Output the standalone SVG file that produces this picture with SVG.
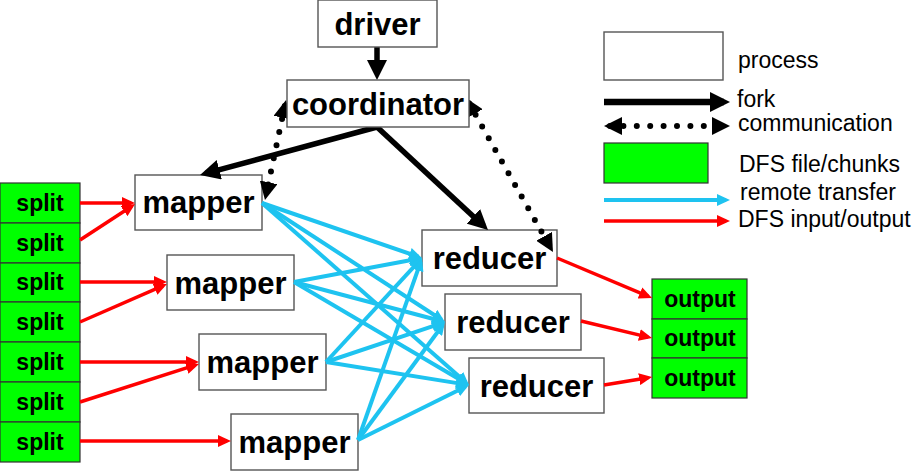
<svg xmlns="http://www.w3.org/2000/svg" width="917" height="471" viewBox="0 0 917 471">
<defs>
<style>
.proc{fill:#fff;stroke:#555;stroke-width:1.4}
.dfs{fill:#00ff00;stroke:#333;stroke-width:1.2}
.lbl{font-family:"Liberation Sans",Arial,sans-serif;font-weight:bold;font-size:31px;fill:#000;text-anchor:middle}
.sm{font-family:"Liberation Sans",Arial,sans-serif;font-weight:bold;font-size:23px;fill:#000;text-anchor:middle}
.leg{font-family:"Liberation Sans",Arial,sans-serif;font-size:23px;fill:#000}
.fork{stroke:#000;stroke-width:5.5;fill:none;marker-end:url(#mFork)}
.comm{stroke:#000;stroke-width:6;fill:none;stroke-linecap:round;stroke-dasharray:0 13.4;marker-start:url(#mComm);marker-end:url(#mComm)}
.blue{stroke:#1ec3f0;stroke-width:4;fill:none;marker-end:url(#mBlue)}
.red{stroke:#ff0000;stroke-width:3.5;fill:none;marker-end:url(#mRed)}
</style>
<marker id="mFork" markerUnits="userSpaceOnUse" viewBox="0 0 20 20" markerWidth="20" markerHeight="20" refX="14" refY="10" orient="auto"><path d="M0,0 L20,10 L0,20 z" fill="#000"/></marker>
<marker id="mComm" markerUnits="userSpaceOnUse" viewBox="0 0 18 18" markerWidth="18" markerHeight="18" refX="12" refY="9" orient="auto-start-reverse"><path d="M0,0 L18,9 L0,18 z" fill="#000"/></marker>
<marker id="mBlue" markerUnits="userSpaceOnUse" viewBox="0 0 13 12" markerWidth="13" markerHeight="12" refX="9" refY="6" orient="auto"><path d="M0,0 L13,6 L0,12 z" fill="#1ec3f0"/></marker>
<marker id="mRed" markerUnits="userSpaceOnUse" viewBox="0 0 13 12" markerWidth="13" markerHeight="12" refX="9" refY="6" orient="auto"><path d="M0,0 L13,6 L0,12 z" fill="#ff0000"/></marker>
</defs>
<rect width="917" height="471" fill="#fff"/>

<g id="splits">
<g id="split1"><rect class="dfs" x="0" y="183" width="80" height="40"/><text class="sm" x="40" y="211">split</text></g>
<g id="split2"><rect class="dfs" x="0" y="223" width="80" height="40"/><text class="sm" x="40" y="251">split</text></g>
<g id="split3"><rect class="dfs" x="0" y="263" width="80" height="39"/><text class="sm" x="40" y="290">split</text></g>
<g id="split4"><rect class="dfs" x="0" y="302" width="80" height="40"/><text class="sm" x="40" y="330">split</text></g>
<g id="split5"><rect class="dfs" x="0" y="342" width="80" height="40"/><text class="sm" x="40" y="370">split</text></g>
<g id="split6"><rect class="dfs" x="0" y="382" width="80" height="40"/><text class="sm" x="40" y="410">split</text></g>
<g id="split7"><rect class="dfs" x="0" y="422" width="80" height="40"/><text class="sm" x="40" y="450">split</text></g>
</g>

<g id="outputs">
<g id="output1"><rect class="dfs" x="652" y="279" width="95" height="40"/><text class="sm" x="700" y="307">output</text></g>
<g id="output2"><rect class="dfs" x="652" y="319" width="95" height="39"/><text class="sm" x="700" y="346">output</text></g>
<g id="output3"><rect class="dfs" x="652" y="358" width="95" height="40"/><text class="sm" x="700" y="386">output</text></g>
</g>

<g id="mapper1"><rect class="proc" x="135" y="175" width="127" height="55"/><text class="lbl" x="198.5" y="213">mapper</text></g>
<g id="mapper2"><rect class="proc" x="167" y="255" width="127" height="55"/><text class="lbl" x="230.5" y="293.5">mapper</text></g>
<g id="mapper3"><rect class="proc" x="199" y="334" width="127" height="56"/><text class="lbl" x="262.5" y="373">mapper</text></g>
<g id="mapper4"><rect class="proc" x="231" y="414" width="127" height="56"/><text class="lbl" x="294.5" y="453">mapper</text></g>

<g id="reducer1"><rect class="proc" x="422" y="230" width="135" height="56"/><text class="lbl" x="489.5" y="269">reducer</text></g>
<g id="reducer2"><rect class="proc" x="445" y="294" width="136" height="56"/><text class="lbl" x="513" y="333">reducer</text></g>
<g id="reducer3"><rect class="proc" x="469" y="358" width="135" height="55"/><text class="lbl" x="536.5" y="396.5">reducer</text></g>

<g id="legend">
<rect class="proc" x="604" y="32" width="119" height="48"/>
<text class="leg" x="738" y="68">process</text>
<line x1="604" y1="102" x2="724" y2="102" stroke="#000" stroke-width="6.5" marker-end="url(#mFork)"/>
<text class="leg" x="737" y="107">fork</text>
<line x1="610" y1="126" x2="724" y2="126" class="comm"/>
<text class="leg" x="738" y="131">communication</text>
<rect class="dfs" x="604" y="143" width="104" height="40"/>
<text class="leg" x="739" y="172">DFS file/chunks</text>
<line x1="604" y1="200" x2="726" y2="200" class="blue"/>
<text class="leg" x="740" y="200">remote transfer</text>
<line x1="604" y1="221" x2="726" y2="221" class="red"/>
<text class="leg" x="738" y="226.5">DFS input/output</text>
</g>

<g id="connectors">
<line class="fork" x1="377" y1="47" x2="377" y2="74"/>
<line class="fork" x1="377" y1="127" x2="205.8" y2="173.4"/>
<line class="fork" x1="377" y1="127" x2="483.6" y2="225.9"/>
<line class="comm" x1="284.8" y1="105.9" x2="266.2" y2="194.1"/>
<line class="comm" x1="469" y1="103.2" x2="550" y2="246.8"/>

<line class="red" x1="80" y1="203" x2="131" y2="203"/>
<line class="red" x1="80" y1="240" x2="131.7" y2="206.2"/>
<line class="red" x1="80" y1="282" x2="163" y2="282"/>
<line class="red" x1="80" y1="322" x2="163.3" y2="285.6"/>
<line class="red" x1="80" y1="362" x2="195" y2="362"/>
<line class="red" x1="80" y1="402" x2="195.2" y2="365.2"/>
<line class="red" x1="80" y1="441" x2="227" y2="441"/>
<line class="red" x1="557" y1="258" x2="648.3" y2="296.4"/>
<line class="red" x1="581" y1="321" x2="648.1" y2="337.1"/>
<line class="red" x1="604" y1="385" x2="648.1" y2="377.7"/>

<line class="blue" x1="262" y1="203" x2="418.2" y2="256.7"/>
<line class="blue" x1="262" y1="203" x2="441.6" y2="319.8"/>
<line class="blue" x1="262" y1="203" x2="466" y2="382.4"/>
<line class="blue" x1="294" y1="282" x2="418.1" y2="258.7"/>
<line class="blue" x1="294" y1="282" x2="441.1" y2="321"/>
<line class="blue" x1="294" y1="282" x2="465.6" y2="383"/>
<line class="blue" x1="326" y1="362" x2="419.3" y2="260.9"/>
<line class="blue" x1="326" y1="362" x2="441.2" y2="323.3"/>
<line class="blue" x1="326" y1="362" x2="465" y2="384.4"/>
<line class="blue" x1="358" y1="440" x2="420.7" y2="261.8"/>
<line class="blue" x1="358" y1="440" x2="442.6" y2="325.2"/>
<line class="blue" x1="358" y1="440" x2="465.4" y2="386.8"/>
</g>

<g id="driver"><rect class="proc" x="318" y="0" width="119" height="47"/><text class="lbl" x="377.5" y="35">driver</text></g>
<g id="coordinator"><rect class="proc" x="287" y="80" width="182" height="47"/><text class="lbl" x="378" y="115">coordinator</text></g>
</svg>
